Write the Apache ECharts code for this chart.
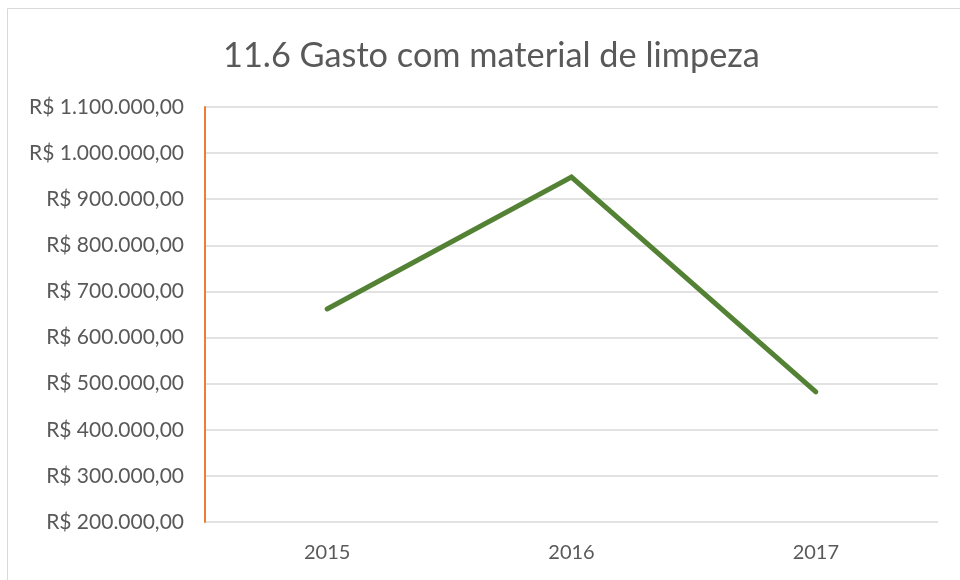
<!DOCTYPE html>
<html>
<head>
<meta charset="utf-8">
<script src="https://cdn.jsdelivr.net/npm/echarts@6/dist/echarts.min.js"></script>
<style>
  html, body { margin: 0; padding: 0; background: #fff; }
  #chart { width: 960px; height: 580px; }
</style>
</head>
<body>
<div id="chart"></div>
<script>
const YEARS = ['2015', '2016', '2017'];
const GASTO = [662000, 948000, 482000];
const Y_MIN = 200000;
const Y_MAX = 1100000;
const Y_STEP = 100000;

// R$ 1.100.000,00
function brl(v) {
  let s = Math.round(v).toString().replace(/\B(?=(\d{3})+(?!\d))/g, '.');
  return 'R$ ' + s + ',00';
}

const chart = echarts.init(document.getElementById('chart'));
chart.setOption({
  animation: false,
  title: {
    text: '11.6 Gasto com material de limpeza',
    left: 218,
    top: 34,
    textStyle: { fontFamily: 'Lato', fontSize: 34.3, fontWeight: 'normal', color: '#595959' }
  },
  // chart-area frame: only top and left edges are visible in the crop
  graphic: [{
    type: 'polyline',
    shape: { points: [[7.5, 580], [7.5, 8.5], [960, 8.5]] },
    style: { fill: 'none', stroke: '#d9d9d9', lineWidth: 1 },
    silent: true
  }],
  grid: { left: 205, right: 22, top: 107, bottom: 58 },
  xAxis: {
    type: 'category',
    data: YEARS,
    boundaryGap: true,
    axisLine: { show: false },
    axisTick: { show: false },
    axisLabel: { fontFamily: 'Lato', fontSize: 20, color: '#595959', margin: 21 }
  },
  yAxis: {
    type: 'value',
    min: Y_MIN,
    max: Y_MAX,
    interval: Y_STEP,
    axisLine: { show: true, lineStyle: { color: '#ED7D31', width: 2 } },
    axisTick: { show: false },
    splitLine: { lineStyle: { color: '#d9d9d9', width: 1.5 } },
    axisLabel: {
      fontFamily: 'Lato', fontSize: 21, color: '#595959', margin: 21,
      formatter: brl
    }
  },
  series: [{
    type: 'line',
    data: GASTO,
    symbol: 'none',
    lineStyle: { color: '#548235', width: 5, cap: 'round', join: 'miter' }
  }]
});
</script>
</body>
</html>
